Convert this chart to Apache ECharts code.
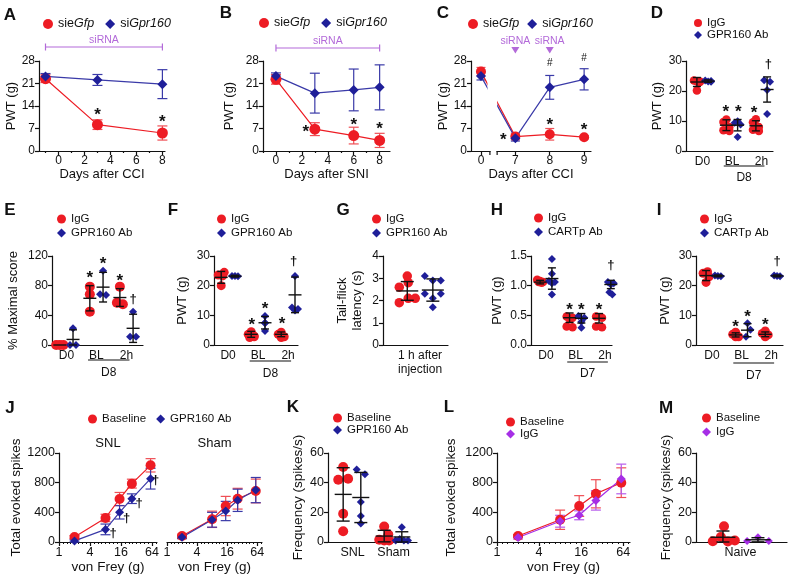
<!DOCTYPE html>
<html><head><meta charset="utf-8">
<script src="https://cdn.jsdelivr.net/npm/echarts@6/dist/echarts.min.js"></script>
<style>html,body{margin:0;padding:0;background:#fff}#c{width:792px;height:579px}</style>
</head><body><div id="c"></div>
<script>
// ---------------- DATA ----------------
// A
const A_days=[-1,3,8];
const A_gfp=[22.5,8.2,5.6], A_gfpErr=[1.2,1.5,2.2];
const A_gpr=[23.2,22.1,20.8], A_gprErr=[0.9,1.7,4.5];
const A_marks=[[3,12.4,'*'],[8,10.3,'*']];
// B
const B_days=[0,3,6,8];
const B_gfp=[22.3,6.8,4.8,3.3], B_gfpErr=[1.5,2,2.6,2.2];
const B_gpr=[23.3,18,19,19.8], B_gprErr=[1,6.2,6.5,7];
const B_marks=[[2.3,7.2,'*'],[6,9.3,'*'],[8,7.9,'*']];
// C
const C_dayLabels=['0','7','8','9'];
const C_pos=[0,1,2,3];
const C_gfp=[24.7,4.5,5.2,4.3], C_gfpErr=[1.3,1,1.8,0.5];
const C_gpr=[23.3,4.0,19.8,22.3], C_gprErr=[1.2,0.9,3.7,3.3];
const C_marks=[[0.65,4.7,'*'],[2,9.1,'*'],[3,7.6,'*'],[2,27.3,'#'],[3,29,'#']];
const C_siRNA=[1,2];
// D
const D_groups=['D0','BL','2h'];
const D_igg=[[23.5,23.2,23.2,23,20.2],[10.5,9.7,8,6.9,6.7],[10.6,9.6,8,7.1,6.7]];
const D_iggJit=[[-0.1,0.1,0,0.1,0],[0,-0.1,0.1,-0.1,0.1],[0,-0.1,0.1,-0.1,0.1]];
const D_iggMean=[23,8.6,8.4], D_iggSD=[1.5,1.8,1.7];
const D_ab=[[23.5,23.3,23.2,23.1],[9.9,9.4,8.8,4.7],[23.6,23.1,20.3,12.3]];
const D_abJit=[[-0.1,0.1,0,0.1],[0,-0.1,0.1,0],[-0.1,0.1,0,0]];
const D_abMean=[23.3,8.6,20.5], D_abSD=[0.4,1.9,4.2];
const D_marks=[[1.79,14.2,'*'],[2.21,14.2,'*'],[2.75,13.9,'*'],[3.23,28.7,'†']];
// E
const E_groups=['D0','BL','2h'];
const E_igg=[[0,0,0],[78.7,68.3,45],[78.7,57,55]];
const E_iggJit=[[-0.12,0,0.12],[0,0,0],[0,-0.1,0.1]];
const E_iggMean=[0,63,64], E_iggSD=[0,17,12];
const E_ab=[[22.5,0,0],[100,68.3,67.4],[45,11,11]];
const E_abJit=[[0,-0.1,0.1],[0,-0.1,0.1],[0,-0.1,0.1]];
const E_abMean=[7.5,78,22.5], E_abSD=[13,20,19];
const E_marks=[[1.78,95.7,'*'],[2.22,114.6,'*'],[2.78,90.8,'*'],[3.22,62,'†']];
// F
const F_groups=['D0','BL','2h'];
const F_igg=[[24.5,23.6,23.3,20],[4.5,3.6,3,2.5,2.8],[4.3,3.6,2.8,2.5]];
const F_iggJit=[[0.1,-0.1,0.05,0],[0,-0.1,0.1,-0.05,0.1],[0,-0.1,0.1,0]];
const F_iggMean=[22.8,3.6,3.6], F_iggSD=[2,1,0.8];
const F_ab=[[23.3,23.3,23.2],[9.8,7.5,7.3,4.7],[23.3,12.6,12.1,11.6]];
const F_abJit=[[-0.1,0,0.1],[0,0,0,0],[0,-0.1,0.1,0]];
const F_abMean=[23.2,7.5,16.9], F_abSD=[0.3,2.1,6];
const F_marks=[[1.79,8.1,'*'],[2.23,13.5,'*'],[2.8,8.2,'*'],[3.18,28.3,'†']];
// G
const G_groups=['1 h after\ninjection'];
const G_igg=[[3.1,2.8,2.6,2.1,2.1,1.9]];
const G_iggJit=[[0,0.03,-0.25,0.03,0.25,-0.25]];
const G_iggMean=[2.43], G_iggSD=[0.42];
const G_ab=[[3.1,2.9,2.9,2.3,2.3,2.1,1.7]];
const G_abJit=[[-0.25,0,0.25,-0.25,0.25,0,0]];
const G_abMean=[2.47], G_abSD=[0.5];
// H
const H_groups=['D0','BL','2h'];
const H_igg=[[1.1,1.08,1.06,1.06,1.05],[0.48,0.46,0.44,0.31,0.3],[0.48,0.46,0.31,0.3]];
const H_iggJit=[[-0.1,0,0.1,-0.05,0.05],[-0.1,0.1,0,-0.1,0.1],[-0.1,0.1,-0.1,0.1]];
const H_iggMean=[1.06,0.46,0.45], H_iggSD=[0.03,0.08,0.08];
const H_ab=[[1.45,1.2,1.08,1.06,1.04,0.85],[0.49,0.46,0.39,0.29],[1.06,1.04,1.02,0.89,0.85]];
const H_abJit=[[0,0,-0.1,0.1,0,0],[-0.1,0.1,0,0],[-0.1,0.1,0,-0.05,0.05]];
const H_abMean=[1.12,0.45,1.02], H_abSD=[0.18,0.08,0.07];
const H_marks=[[1.8,0.65,'*'],[2.2,0.65,'*'],[2.8,0.65,'*'],[3.2,1.34,'†']];
// I
const I_groups=['D0','BL','2h'];
const I_igg=[[24.7,24.2,23,21.1],[4.3,3.6,2.8,2.8],[4.7,3.9,3.4,2.8]];
const I_iggJit=[[0.05,-0.1,0.1,0],[0,-0.1,0.1,0],[0,-0.1,0.1,0]];
const I_iggMean=[23.4,3.4,3.6], I_iggSD=[1.7,0.7,0.8];
const I_ab=[[23.4,23.3,23.2],[7.3,5.1,2.8],[23.4,23.3,23.2]];
const I_abJit=[[-0.1,0,0.1],[0,0.1,-0.05],[-0.1,0,0.1]];
const I_abMean=[23.3,5,23.3], I_abSD=[0.3,2.2,0.3];
const I_marks=[[1.8,7.3,'*'],[2.2,10.7,'*'],[2.8,7.9,'*'],[3.2,28.3,'†']];
// J
const J_ticks=[1,4,16,64];
const J_vf=[2,8,15,26,60];
const J_snlBase=[67,324,580,787,1034], J_snlBaseErr=[20,50,88,60,90];
const J_snlAb=[15,170,400,584,854], J_snlAbErr=[15,72,90,65,140];
const J_marks=[[11.3,121,'†'],[20.6,315,'†'],[36,517,'†'],[75,831,'†']];
const J_shamBase=[81,306,485,584,688], J_shamBaseErr=[25,110,130,140,160];
const J_shamAb=[65,300,418,562,700], J_shamAbErr=[20,100,130,150,170];
// K
const K_groups=['SNL','Sham'];
const K_base=[[50.6,42,42.7,19,7.2],[10.5,5,1.5,1,1]];
const K_baseJit=[[0,-0.12,0.12,0,0],[0,0.1,-0.12,0,0.12]];
const K_baseMean=[32.1,4], K_baseSD=[18,3.9];
const K_ab=[[48.8,45.6,27,17.5,12.4],[10,1,1,1,2]];
const K_abJit=[[-0.1,0.1,0,0,0],[0,-0.15,0.05,0.15,-0.05]];
const K_abMean=[30,3.4], K_abSD=[16.9,3.5];
// L
const L_vf=[2,8,15,26,60];
const L_base=[81,300,485,650,800], L_baseErr=[20,130,140,190,200];
const L_igg=[60,280,360,560,850], L_iggErr=[20,80,60,130,200];
// M
const M_groups=['Naive'];
const M_base=[[0.5,3.4,10.6,0.3,1]];
const M_baseJit=[[-0.29,-0.06,0.03,0.14,0.34]];
const M_baseMean=[3.2], M_baseSD=[4.2];
const M_igg=[[0.7,3.2,0.7]];
const M_iggJit=[[-0.31,0,0.31]];
const M_iggMean=[1.5], M_iggSD=[1.4];

// ---------------- STYLE ----------------
const RED='#ed1c24', RED_E='#ef4f55', BLUE='#1f1f99', BLUE_E='#3a3aa8', PURPLE='#a62ee6', PURPLE_E='#b65bec', VIOLET='#b36ad9', INK='#111111';
const FONT='"Liberation Sans", Arial, sans-serif';

const grids=[],xAxes=[],yAxes=[],series=[],legends=[];
const NAMES={};
function merge(a,b){for(const k in b){const v=b[k];if(v&&typeof v==='object'&&!Array.isArray(v)&&a[k]&&typeof a[k]==='object'&&!Array.isArray(a[k]))merge(a[k],v);else a[k]=v;}return a;}
function axBase(){return {axisLine:{show:true,onZero:false,lineStyle:{color:INK,width:1.2}},axisTick:{show:true,length:4,inside:false,lineStyle:{color:INK,width:1.2}},axisLabel:{color:INK,fontSize:12,fontFamily:FONT,margin:4,formatter:v=>String(v)},splitLine:{show:false},nameTextStyle:{color:INK,fontSize:13,fontFamily:FONT}};}
function makeGrid(r){grids.push({left:r[0],top:r[1],width:r[2],height:r[3]});return grids.length-1;}
function addX(g,c){xAxes.push(merge(merge(axBase(),{gridIndex:g,position:'bottom'}),c));return xAxes.length-1;}
function addY(g,c){yAxes.push(merge(merge(axBase(),{gridIndex:g,position:'left'}),c));return yAxes.length-1;}

function lineS(name,xi,yi,xs,ys,color,lcolor,symbol,size){
  series.push({name,type:'line',xAxisIndex:xi,yAxisIndex:yi,data:xs.map((x,i)=>[x,ys[i]]),symbol,symbolSize:size,itemStyle:{color},lineStyle:{color:lcolor,width:1.2},z:4,clip:false});
}
function errS(xi,yi,xs,ys,es,color,cap){
  series.push({type:'custom',xAxisIndex:xi,yAxisIndex:yi,z:3,data:xs.map((x,i)=>[x,ys[i]-es[i],ys[i]+es[i]]),
    renderItem:(p,api)=>{const x=api.value(0);const lo=api.coord([x,api.value(1)]),hi=api.coord([x,api.value(2)]);const s={stroke:color,lineWidth:1.2};
      return {type:'group',children:[{type:'line',shape:{x1:lo[0],y1:lo[1],x2:hi[0],y2:hi[1]},style:s},{type:'line',shape:{x1:lo[0]-cap/2,y1:lo[1],x2:lo[0]+cap/2,y2:lo[1]},style:s},{type:'line',shape:{x1:hi[0]-cap/2,y1:hi[1],x2:hi[0]+cap/2,y2:hi[1]},style:s}]};}});
}
function markS(xi,yi,marks){
  series.push({type:'custom',xAxisIndex:xi,yAxisIndex:yi,z:6,data:marks.map(m=>[m[0],m[1]]),
    renderItem:(p,api)=>{const c=api.coord([api.value(0),api.value(1)]);const t=marks[p.dataIndex][2];
      const st=t==='*'?{fs:17,fw:'bold',dy:4}:(t==='#'?{fs:10,fw:'normal',dy:0}:{fs:13,fw:'bold',dy:0});
      return {type:'text',x:c[0],y:c[1]+st.dy,style:{text:t,fill:INK,fontSize:st.fs,fontWeight:st.fw,fontFamily:FONT,align:'center',verticalAlign:'middle'}};}});
}
function meanRender(mw,cw){return (p,api)=>{const x=api.value(0);const c=api.coord([x,api.value(1)]),lo=api.coord([x,api.value(2)]),hi=api.coord([x,api.value(3)]);const st={stroke:INK,lineWidth:1.4};
  const ch=[{type:'line',shape:{x1:c[0]-mw/2,y1:c[1],x2:c[0]+mw/2,y2:c[1]},style:st}];
  if(Math.abs(hi[1]-lo[1])>0.5){ch.push({type:'line',shape:{x1:lo[0],y1:lo[1],x2:hi[0],y2:hi[1]},style:st});
    ch.push({type:'line',shape:{x1:lo[0]-cw/2,y1:lo[1],x2:lo[0]+cw/2,y2:lo[1]},style:st});
    ch.push({type:'line',shape:{x1:hi[0]-cw/2,y1:hi[1],x2:hi[0]+cw/2,y2:hi[1]},style:st});}
  return {type:'group',children:ch};};}
function addLegend(items,left,top,orient,fs,gap,isz,lh){
  legends.push({left,top,orient,itemGap:gap,itemWidth:isz,itemHeight:isz,selectedMode:false,padding:0,
    data:items.map(it=>({name:it[0],icon:it[1]})),formatter:n=>NAMES[n],
    textStyle:{fontSize:fs,color:INK,fontFamily:FONT,lineHeight:lh,rich:{i:{fontStyle:'italic',fontSize:fs,color:INK,fontFamily:FONT,lineHeight:lh}}}});
}
function dotPanel(c){
  const g=makeGrid(c.rect);
  const gpos=c.groups.map((_,i)=>i+1);
  const xi=addX(g,{type:'value',min:c.xmin,max:c.xmax,axisTick:{show:false},axisLabel:{customValues:gpos,formatter:v=>c.groups[Math.round(v)-1],margin:c.lm||4,lineHeight:14,fontSize:12}});
  const yi=addY(g,{type:'value',min:c.ymin,max:c.ymax,interval:c.yint,name:c.yname,nameLocation:'middle',nameGap:c.ng,nameTextStyle:{lineHeight:15},axisLabel:c.yfmt?{formatter:c.yfmt}:{}});
  c.sets.forEach(s=>{
    const pts=[];s.vals.forEach((arr,gi)=>arr.forEach((v,k)=>pts.push([gpos[gi]+s.off+(s.jit?s.jit[gi][k]:0),v])));
    series.push({name:s.name,type:'scatter',xAxisIndex:xi,yAxisIndex:yi,data:pts,symbol:s.symbol,symbolSize:s.size,itemStyle:{color:s.color,opacity:1},z:3,clip:false});
    series.push({type:'custom',xAxisIndex:xi,yAxisIndex:yi,z:5,data:s.mean.map((m,gi)=>[gpos[gi]+s.off,m,Math.max(c.ymin,m-s.sd[gi]),m+s.sd[gi]]),renderItem:meanRender(c.mw,c.cw)});
    NAMES[s.name]=s.label;
  });
  if(c.marks)markS(xi,yi,c.marks);
  return {g,xi,yi};
}

// ---------------- PANELS ----------------
// A
const gA=makeGrid([39,61,126,90]);
const xA=addX(gA,{type:'value',min:-1.5,max:8.2,name:'Days after CCI',nameLocation:'middle',nameGap:13,axisLabel:{customValues:[0,2,4,6,8]},axisTick:{customValues:[0,2,4,6,8]}});
addX(gA,{type:'value',min:-1.5,max:8.2,axisLine:{show:false},axisLabel:{show:false},axisTick:{customValues:[-1,1,3,5,7],length:2}});
const yA=addY(gA,{type:'value',min:0,max:28,interval:7,name:'PWT (g)',nameLocation:'middle',nameGap:19});
errS(xA,yA,A_days,A_gfp,A_gfpErr,RED_E,10);
errS(xA,yA,A_days,A_gpr,A_gprErr,BLUE_E,10);
lineS('A#g',xA,yA,A_days,A_gfp,RED,RED,'circle',11);
lineS('A#b',xA,yA,A_days,A_gpr,BLUE,BLUE_E,'diamond',10);
markS(xA,yA,A_marks);
NAMES['A#g']='sie{i|Gfp}';NAMES['A#b']='si{i|Gpr160}';
addLegend([['A#g','circle'],['A#b','diamond']],43,16,'horizontal',12.5,11,10,16);
// B
const gB=makeGrid([263,61,127,90]);
const xB=addX(gB,{type:'value',min:-1,max:8.8,name:'Days after SNI',nameLocation:'middle',nameGap:13,axisLabel:{customValues:[0,2,4,6,8]},axisTick:{customValues:[0,2,4,6,8]}});
addX(gB,{type:'value',min:-1,max:8.8,axisLine:{show:false},axisLabel:{show:false},axisTick:{customValues:[-1,1,3,5,7],length:2}});
const yB=addY(gB,{type:'value',min:0,max:28,interval:7,name:'PWT (g)',nameLocation:'middle',nameGap:27});
errS(xB,yB,B_days,B_gfp,B_gfpErr,RED_E,10);
errS(xB,yB,B_days,B_gpr,B_gprErr,BLUE_E,10);
lineS('B#g',xB,yB,B_days,B_gfp,RED,RED,'circle',11);
lineS('B#b',xB,yB,B_days,B_gpr,BLUE,BLUE_E,'diamond',10);
markS(xB,yB,B_marks);
NAMES['B#g']='sie{i|Gfp}';NAMES['B#b']='si{i|Gpr160}';
addLegend([['B#g','circle'],['B#b','diamond']],259,15,'horizontal',12.5,11,10,16);
// C
const gC=makeGrid([471,61,120,90]);
const xC=addX(gC,{type:'value',min:-0.29,max:3.2,name:'Days after CCI',nameLocation:'middle',nameGap:13,axisLabel:{customValues:C_pos,formatter:v=>C_dayLabels[Math.round(v)]},axisTick:{customValues:C_pos}});
const yC=addY(gC,{type:'value',min:0,max:28,interval:7,name:'PWT (g)',nameLocation:'middle',nameGap:18});
errS(xC,yC,C_pos,C_gfp,C_gfpErr,RED_E,9);
errS(xC,yC,C_pos,C_gpr,C_gprErr,BLUE_E,9);
lineS('C#g',xC,yC,C_pos,C_gfp,RED,RED,'circle',10);
lineS('C#b',xC,yC,C_pos,C_gpr,BLUE,BLUE_E,'diamond',10);
markS(xC,yC,C_marks);
NAMES['C#g']='sie{i|Gfp}';NAMES['C#b']='si{i|Gpr160}';
addLegend([['C#g','circle'],['C#b','diamond']],468,16,'horizontal',12.5,8,10,16);
// D
const pD=dotPanel({rect:[686,61,87,90],xmin:0.44,xmax:3.39,ymin:0,ymax:30,yint:10,yname:'PWT (g)',ng:20,groups:D_groups,mw:13,cw:8,marks:D_marks,
  sets:[{name:'D#r',label:'IgG',vals:D_igg,jit:D_iggJit,mean:D_iggMean,sd:D_iggSD,color:RED,symbol:'circle',size:8.5,off:-0.19},
        {name:'D#b',label:'GPR160 Ab',vals:D_ab,jit:D_abJit,mean:D_abMean,sd:D_abSD,color:BLUE,symbol:'diamond',size:8,off:0.19}]});
addLegend([['D#r','circle'],['D#b','diamond']],694,17,'vertical',11.5,0,8,12);
// E
const pE=dotPanel({rect:[52,256,91,89],xmin:0.52,xmax:3.55,ymin:0,ymax:120,yint:40,yname:'% Maximal score',ng:31,groups:E_groups,mw:13,cw:8,marks:E_marks,lm:4,
  sets:[{name:'E#r',label:'IgG',vals:E_igg,jit:E_iggJit,mean:E_iggMean,sd:E_iggSD,color:RED,symbol:'circle',size:10,off:-0.22},
        {name:'E#b',label:'GPR160 Ab',vals:E_ab,jit:E_abJit,mean:E_abMean,sd:E_abSD,color:BLUE,symbol:'diamond',size:8,off:0.22}]});
addLegend([['E#r','circle'],['E#b','diamond']],57,213,'vertical',11.5,2,9,12);
// F
const pF=dotPanel({rect:[214,256,84,89],xmin:0.53,xmax:3.33,ymin:0,ymax:30,yint:10,yname:'PWT (g)',ng:24,groups:F_groups,mw:13,cw:8,marks:F_marks,
  sets:[{name:'F#r',label:'IgG',vals:F_igg,jit:F_iggJit,mean:F_iggMean,sd:F_iggSD,color:RED,symbol:'circle',size:9,off:-0.23},
        {name:'F#b',label:'GPR160 Ab',vals:F_ab,jit:F_abJit,mean:F_abMean,sd:F_abSD,color:BLUE,symbol:'diamond',size:8,off:0.23}]});
addLegend([['F#r','circle'],['F#b','diamond']],217,213,'vertical',11.5,2,9,12);
// G
const pG=dotPanel({rect:[383,256,65,89],xmin:-0.16,xmax:1.875,ymin:0,ymax:4,yint:1,yname:'Tail-flick\nlatency (s)',ng:18,groups:G_groups,mw:22,cw:13,lm:4,
  sets:[{name:'G#r',label:'IgG',vals:G_igg,jit:G_iggJit,mean:G_iggMean,sd:G_iggSD,color:RED,symbol:'circle',size:9.5,off:-0.4},
        {name:'G#b',label:'GPR160 Ab',vals:G_ab,jit:G_abJit,mean:G_abMean,sd:G_abSD,color:BLUE,symbol:'diamond',size:8,off:0.4}]});
addLegend([['G#r','circle'],['G#b','diamond']],372,213,'vertical',11.5,2,9,12);
// H
const pH=dotPanel({rect:[531,256,81,89],xmin:0.49,xmax:3.24,ymin:0,ymax:1.5,yint:0.5,yfmt:v=>v.toFixed(1),yname:'PWT (g)',ng:26,groups:H_groups,mw:13,cw:8,marks:H_marks,
  sets:[{name:'H#r',label:'IgG',vals:H_igg,jit:H_iggJit,mean:H_iggMean,sd:H_iggSD,color:RED,symbol:'circle',size:8.5,off:-0.2},
        {name:'H#b',label:'CARTp Ab',vals:H_ab,jit:H_abJit,mean:H_abMean,sd:H_abSD,color:BLUE,symbol:'diamond',size:8,off:0.2}]});
addLegend([['H#r','circle'],['H#b','diamond']],534,212,'vertical',11.5,2,9,12);
// I
const pI=dotPanel({rect:[696,256,87,89],xmin:0.46,xmax:3.4,ymin:0,ymax:30,yint:10,yname:'PWT (g)',ng:23,groups:I_groups,mw:13,cw:8,marks:I_marks,
  sets:[{name:'I#r',label:'IgG',vals:I_igg,jit:I_iggJit,mean:I_iggMean,sd:I_iggSD,color:RED,symbol:'circle',size:9,off:-0.2},
        {name:'I#b',label:'CARTp Ab',vals:I_ab,jit:I_abJit,mean:I_abMean,sd:I_abSD,color:BLUE,symbol:'diamond',size:8,off:0.2}]});
addLegend([['I#r','circle'],['I#b','diamond']],700,213,'vertical',11.5,2,9,12);
// J
const MINOR=[];for(let i=1;i<=25;i++){if(i%8!==0)MINOR.push(Math.pow(2,i/4));}
function logPanel(rect,showY,yname,ng){
  const g=makeGrid(rect);
  const xi=addX(g,{type:'log',logBase:2,min:1,max:80,name:'von Frey (g)',nameLocation:'middle',nameGap:15,nameTextStyle:{fontSize:13.5},axisLabel:{customValues:J_ticks,fontSize:12.5},axisTick:{customValues:J_ticks}});
  addX(g,{type:'log',logBase:2,min:1,max:80,axisLine:{show:false},axisLabel:{show:false},axisTick:{customValues:MINOR,length:2,lineStyle:{width:1}}});
  const yc={type:'value',min:0,max:1200,interval:400,show:showY,nameLocation:'middle',nameGap:ng,nameTextStyle:{fontSize:13.5},axisLabel:{fontSize:12.5}};
  if(yname)yc.name=yname;
  const yi=addY(g,yc);
  return {g,xi,yi};
}
const pJ1=logPanel([59,453,98,89],true,'Total evoked spikes',31);
errS(pJ1.xi,pJ1.yi,J_vf,J_snlBase,J_snlBaseErr,RED_E,10);
errS(pJ1.xi,pJ1.yi,J_vf,J_snlAb,J_snlAbErr,BLUE_E,10);
lineS('J#r',pJ1.xi,pJ1.yi,J_vf,J_snlBase,RED,RED,'circle',10);
lineS('J#b',pJ1.xi,pJ1.yi,J_vf,J_snlAb,BLUE,BLUE_E,'diamond',9);
markS(pJ1.xi,pJ1.yi,J_marks);
const pJ2=logPanel([167,453,95,89],false,null,0);
errS(pJ2.xi,pJ2.yi,J_vf,J_shamBase,J_shamBaseErr,RED_E,10);
errS(pJ2.xi,pJ2.yi,J_vf,J_shamAb,J_shamAbErr,BLUE_E,10);
lineS('J2#r',pJ2.xi,pJ2.yi,J_vf,J_shamBase,RED,RED,'circle',10);
lineS('J2#b',pJ2.xi,pJ2.yi,J_vf,J_shamAb,BLUE,BLUE_E,'diamond',9);
NAMES['J#r']='Baseline';NAMES['J#b']='GPR160 Ab';
addLegend([['J#r','circle'],['J#b','diamond']],88,412,'horizontal',11.5,10,9,14);
// K
const pK=dotPanel({rect:[328,453,89,89],xmin:0.4,xmax:2.57,ymin:0,ymax:60,yint:20,yname:'Frequency (spikes/s)',ng:22,groups:K_groups,mw:17,cw:13,
  sets:[{name:'K#r',label:'Baseline',vals:K_base,jit:K_baseJit,mean:K_baseMean,sd:K_baseSD,color:RED,symbol:'circle',size:10,off:-0.23},
        {name:'K#b',label:'GPR160 Ab',vals:K_ab,jit:K_abJit,mean:K_abMean,sd:K_abSD,color:BLUE,symbol:'diamond',size:8,off:0.2}]});
yAxes[pK.yi].axisLabel.fontSize=12.5;yAxes[pK.yi].nameTextStyle.fontSize=13.5;xAxes[pK.xi].axisLabel.fontSize=12.5;
addLegend([['K#r','circle'],['K#b','diamond']],333,412,'vertical',11.5,0,9,11);
// L
const pL=logPanel([497,453,133,89],true,'Total evoked spikes',39);
errS(pL.xi,pL.yi,L_vf,L_base,L_baseErr,RED_E,10);
errS(pL.xi,pL.yi,L_vf,L_igg,L_iggErr,PURPLE_E,10);
lineS('L#r',pL.xi,pL.yi,L_vf,L_base,RED,RED,'circle',10);
lineS('L#p',pL.xi,pL.yi,L_vf,L_igg,PURPLE,PURPLE,'diamond',9);
NAMES['L#r']='Baseline';NAMES['L#p']='IgG';
addLegend([['L#r','circle'],['L#p','diamond']],506,416,'vertical',11.5,0,9,11);
// M
const pM=dotPanel({rect:[696,453,91,89],xmin:-0.27,xmax:2.33,ymin:0,ymax:60,yint:20,yname:'Frequency (spikes/s)',ng:21,groups:M_groups,mw:25,cw:13,
  sets:[{name:'M#r',label:'Baseline',vals:M_base,jit:M_baseJit,mean:M_baseMean,sd:M_baseSD,color:RED,symbol:'circle',size:10,off:-0.5},
        {name:'M#p',label:'IgG',vals:M_igg,jit:M_iggJit,mean:M_iggMean,sd:M_iggSD,color:PURPLE,symbol:'diamond',size:8,off:0.5}]});
yAxes[pM.yi].axisLabel.fontSize=12.5;yAxes[pM.yi].nameTextStyle.fontSize=13.5;xAxes[pM.xi].axisLabel.fontSize=12.5;
addLegend([['M#r','circle'],['M#p','diamond']],702,412,'vertical',11.5,2,9,12);

// ---------------- RENDER ----------------
const chart=echarts.init(document.getElementById('c'),null,{renderer:'canvas'});
chart.setOption({animation:false,backgroundColor:'#fff',textStyle:{fontFamily:FONT},grid:grids,xAxis:xAxes,yAxis:yAxes,series:series,legend:legends});

const P=(xi,yi,x,y)=>chart.convertToPixel({xAxisIndex:xi,yAxisIndex:yi},[x,y]);
const G=[];
const txt=(t,x,y,fs,fw,fill,al)=>G.push({type:'text',z:100,x,y,style:{text:t,fontSize:fs,fontWeight:fw||'normal',fontFamily:FONT,fill:fill||INK,align:al||'center',verticalAlign:'middle'}});
const ln=(x1,y1,x2,y2,col,w)=>G.push({type:'line',z:100,shape:{x1,y1,x2,y2},style:{stroke:col||INK,lineWidth:w||1.2}});
// letters (layout)
[['A',10,15],['B',226,13],['C',443,13],['D',657,13],['E',10,210],['F',173,210],['G',343,210],['H',497,210],['I',659,210],['J',10,408],['K',293,407],['L',449,407],['M',666,408]]
  .forEach(l=>txt(l[0],l[1],l[2],17,'bold'));
// siRNA brackets A,B
function bracket(xi,yi,x1,x2,y){const a=P(xi,yi,x1,0)[0],b=P(xi,yi,x2,0)[0];ln(a,y,b,y,VIOLET,1.2);ln(a,y-3.5,a,y+3.5,VIOLET,1.2);ln(b,y-3.5,b,y+3.5,VIOLET,1.2);txt('siRNA',(a+b)/2,y-7,10.5,'normal',VIOLET);}
bracket(xA,yA,A_days[0],A_days[A_days.length-1],47);
bracket(xB,yB,B_days[0],B_days[B_days.length-1],48);
// C arrows
C_siRNA.forEach(p=>{const x=P(xC,yC,p,0)[0];txt('siRNA',x,41,10.5,'normal',VIOLET);G.push({type:'polygon',z:100,shape:{points:[[x-4,47],[x+4,47],[x,53.5]]},style:{fill:VIOLET}});});
// C axis break and line gap
(function(){const y0=P(xC,yC,0,0)[1];const x0=P(xC,yC,0,0)[0];const b1=P(xC,yC,0.26,0)[0],b2=P(xC,yC,0.47,0)[0];
  G.push({type:'rect',z:99,shape:{x:b1+0.6,y:y0-2,width:b2-b1-1.2,height:4},style:{fill:'#fff'}});
  ln(b1,y0,b1,y0+4);ln(b2,y0,b2,y0+4);
  G.push({type:'rect',z:99,shape:{x:x0+6.5,y:P(xC,yC,0,27)[1],width:b2-x0-6.5,height:P(xC,yC,0,5.5)[1]-P(xC,yC,0,27)[1]},style:{fill:'#fff'}});
})();
// group underline labels
function under(p,lab,d1,dl){const y0=P(p.xi,p.yi,1,0)[1];const a=P(p.xi,p.yi,2-0.28,0)[0],b=P(p.xi,p.yi,3+0.1,0)[0];ln(a,y0+d1,b,y0+d1,INK,1.2);txt(lab,(a+b)/2,y0+dl,12);}
under(pD,'D8',15,27);under(pE,'D8',15,28);under(pF,'D8',16,29);under(pH,'D7',17,29);under(pI,'D7',18,31);
// J subtitles
(function(){const a=P(pJ1.xi,pJ1.yi,1,1200),b=P(pJ1.xi,pJ1.yi,80,1200);txt('SNL',(a[0]+b[0])/2,a[1]-10,13);
  const c=P(pJ2.xi,pJ2.yi,1,1200),d=P(pJ2.xi,pJ2.yi,80,1200);txt('Sham',(c[0]+d[0])/2,c[1]-10,13);})();
chart.setOption({graphic:{elements:G}});
</script></body></html>
